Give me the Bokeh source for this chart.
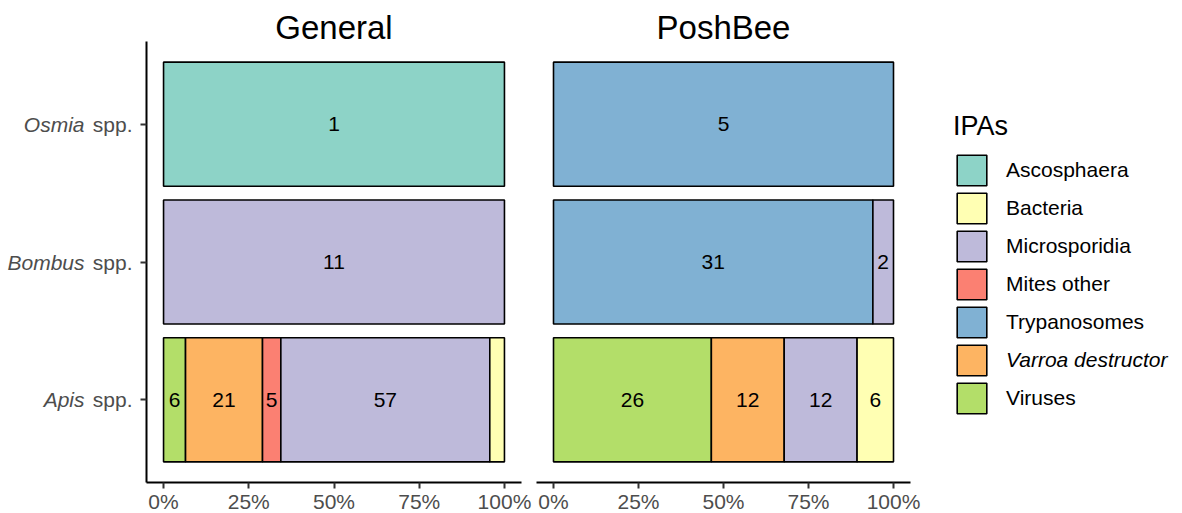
from bokeh.plotting import figure
from bokeh.models import (Range1d, ColumnDataSource, FixedTicker,
                          NumeralTickFormatter, LinearAxis, Legend, LegendItem)
from bokeh.layouts import row
from bokeh.embed import file_html
from bokeh.resources import INLINE
from bokeh.core.properties import value

# ---------------- data ----------------
genera = ["Apis", "Bombus", "Osmia"]          # bottom -> top
genus_suffix = "spp."
categories = ["Ascosphaera", "Bacteria", "Microsporidia", "Mites other",
              "Trypanosomes", "Varroa destructor", "Viruses"]
colors = ["#8DD3C7", "#FFFFB3", "#BEBADA", "#FB8072", "#80B1D3", "#FDB462", "#B3DE69"]

# counts per genus, in category order
general_apis = [0, 4, 57, 5, 0, 21, 6]
general_bombus = [0, 0, 11, 0, 0, 0, 0]
general_osmia = [1, 0, 0, 0, 0, 0, 0]
poshbee_apis = [0, 6, 12, 0, 0, 12, 26]
poshbee_bombus = [0, 0, 2, 0, 31, 0, 0]
poshbee_osmia = [0, 0, 0, 0, 5, 0, 0]

facet_titles = ["General", "PoshBee"]
tick_values = [0, 0.25, 0.5, 0.75, 1.0]
legend_title = "IPAs"

FONT = "Liberation Sans"
TICK_GREY = "#4D4D4D"
ypos = list(range(1, len(genera) + 1))


def stack_source(counts_by_genus):
    y, left, right, color, label, mid = [], [], [], [], [], []
    for yp, counts in zip(ypos, counts_by_genus):
        total = float(sum(counts))
        acc = 0.0
        for i in reversed(range(len(categories))):
            n = counts[i]
            if n == 0:
                continue
            l = acc / total
            acc += n
            r = acc / total
            y.append(yp)
            left.append(l)
            right.append(r)
            color.append(colors[i])
            label.append(str(n) if n / total >= 0.05 else "")
            mid.append((l + r) / 2)
    return ColumnDataSource(dict(y=y, left=left, right=right, color=color,
                                 label=label, mid=mid))


def style_axis(ax):
    ax.axis_line_color = "black"
    ax.axis_line_width = 2
    ax.major_tick_line_color = "#333333"
    ax.major_tick_line_width = 2
    ax.major_tick_out = 6
    ax.major_tick_in = 0
    ax.minor_tick_line_color = None
    ax.major_label_text_font = FONT
    ax.major_label_text_font_size = "21px"
    ax.major_label_text_color = TICK_GREY


TOP = 41


def make_panel(title, counts_by_genus, show_y, border_left, border_right, fw):
    p = figure(frame_width=fw, frame_height=441,
               y_range=Range1d(0.4, len(genera) + 0.6),
               x_range=Range1d(-0.05, 1.05),
               output_backend="svg", toolbar_location=None,
               y_axis_location="left" if show_y else None,
               min_border_left=border_left, min_border_right=border_right,
               min_border_top=TOP, min_border_bottom=0, title=title)
    p.title.text_font = FONT
    p.title.text_font_size = "33px"
    p.title.text_font_style = "normal"
    p.title.text_color = "black"
    p.title.align = "center"
    p.title.standoff = -9
    p.outline_line_color = None
    p.grid.visible = False
    p.background_fill_color = "white"

    src = stack_source(counts_by_genus)
    p.hbar(y="y", left="left", right="right", height=0.9, source=src,
           fill_color="color", line_color="black", line_width=1.6)
    p.text(x="mid", y="y", text="label", source=src, text_align="center",
           text_baseline="middle", text_font=value(FONT),
           text_font_size="21px", text_color="black")

    xa = p.xaxis[0]
    xa.ticker = FixedTicker(ticks=tick_values)
    xa.formatter = NumeralTickFormatter(format="0%")
    xa.major_label_standoff = 1
    style_axis(xa)

    if show_y:
        inner = p.yaxis[0]
        inner.ticker = FixedTicker(ticks=ypos)
        inner.major_label_overrides = {yp: genus_suffix for yp in ypos}
        inner.major_label_standoff = 8
        style_axis(inner)

        outer = LinearAxis(ticker=FixedTicker(ticks=ypos),
                           major_label_overrides={yp: g for yp, g in zip(ypos, genera)})
        style_axis(outer)
        outer.axis_line_color = None
        outer.major_tick_line_color = None
        outer.major_tick_out = 0
        outer.major_label_standoff = 5
        outer.major_label_text_font_style = "italic"
        p.add_layout(outer, "left")
    return p


p1 = make_panel(facet_titles[0], [general_apis, general_bombus, general_osmia],
                True, 146, 12, 375)
p2 = make_panel(facet_titles[1], [poshbee_apis, poshbee_bombus, poshbee_osmia],
                False, 3, 14, 374)

# ---------------- legend panel ----------------
p3 = figure(frame_width=250, frame_height=441, min_border_left=0, min_border_right=0,
            min_border_top=TOP, min_border_bottom=0,
            x_range=Range1d(0, 1), y_range=Range1d(0, 1),
            x_axis_location=None, y_axis_location=None,
            output_backend="svg", toolbar_location=None)
p3.outline_line_color = None
p3.grid.visible = False

nan = float("nan")
dummies = []
for c in colors:
    r = p3.hbar(y=[nan], left=[nan], right=[nan], height=0.1, fill_color=c,
                line_color="black", line_width=1.6)
    dummies.append(r)


def make_legend(idxs, loc, title=None, italic=False):
    kw = dict(items=[LegendItem(label=categories[i], renderers=[dummies[i]]) for i in idxs],
              location=loc, orientation="vertical",
              glyph_width=37, glyph_height=38, label_height=38,
              label_standoff=16, spacing=0, padding=0, margin=0,
              border_line_color=None, background_fill_alpha=0,
              label_text_font=FONT, label_text_font_size="21px",
              label_text_color="black",
              label_text_font_style="italic" if italic else "normal")
    if title:
        kw.update(title=title, title_text_font=FONT, title_text_font_size="27px",
                  title_text_font_style="normal", title_text_color="black",
                  title_standoff=9)
    return Legend(**kw)


p3.add_layout(make_legend([0, 1, 2, 3, 4], (29, 141), title=legend_title), "center")
p3.add_layout(make_legend([5], (29, 103), italic=True), "center")
p3.add_layout(make_legend([6], (29, 65)), "center")

layout = row(p1, p2, p3)
open("out.html", "w").write(file_html(layout, INLINE))
